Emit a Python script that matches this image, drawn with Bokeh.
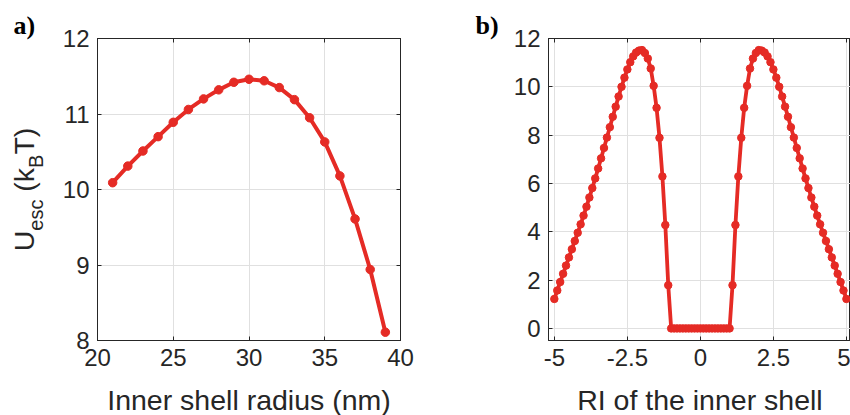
from bokeh.plotting import figure
from bokeh.models import FixedTicker, LinearAxis, Label, Range1d
from bokeh.layouts import row, column
from bokeh.embed import file_html
from bokeh.resources import INLINE

# ---------------- data ----------------
radius_nm = [21, 22, 23, 24, 25, 26, 27, 28, 29, 30, 31, 32, 33, 34, 35, 36, 37, 38, 39]
u_esc_radius = [10.09, 10.31, 10.51, 10.70, 10.89, 11.06, 11.20, 11.32, 11.42, 11.46,
                11.44, 11.35, 11.19, 10.95, 10.63, 10.18, 9.61, 8.94, 8.11]

ri_values = [-5.0, -4.9, -4.8, -4.7, -4.6, -4.5, -4.4, -4.3, -4.2, -4.1,
             -4.0, -3.9, -3.8, -3.7, -3.6, -3.5, -3.4, -3.3, -3.2, -3.1,
             -3.0, -2.9, -2.8, -2.7, -2.6, -2.5, -2.4, -2.3, -2.2, -2.1,
             -2.0, -1.9, -1.8, -1.7, -1.6, -1.5, -1.4, -1.3, -1.2, -1.1,
             -1.0, -0.9, -0.8, -0.7, -0.6, -0.5, -0.4, -0.3, -0.2, -0.1,
             0.0, 0.1, 0.2, 0.3, 0.4, 0.5, 0.6, 0.7, 0.8, 0.9,
             1.0, 1.1, 1.2, 1.3, 1.4, 1.5, 1.6, 1.7, 1.8, 1.9,
             2.0, 2.1, 2.2, 2.3, 2.4, 2.5, 2.6, 2.7, 2.8, 2.9,
             3.0, 3.1, 3.2, 3.3, 3.4, 3.5, 3.6, 3.7, 3.8, 3.9,
             4.0, 4.1, 4.2, 4.3, 4.4, 4.5, 4.6, 4.7, 4.8, 4.9, 5.0]
u_esc_ri = [1.22, 1.57, 1.92, 2.26, 2.60, 2.94, 3.28, 3.62, 3.96, 4.31,
            4.67, 5.04, 5.42, 5.81, 6.21, 6.62, 7.04, 7.47, 7.90, 8.33,
            8.76, 9.18, 9.60, 10.00, 10.38, 10.72, 11.02, 11.26, 11.42, 11.50,
            11.52, 11.40, 11.17, 10.76, 10.04, 9.13, 7.89, 6.29, 4.28, 1.79,
            0, 0, 0, 0, 0, 0, 0, 0, 0, 0,
            0, 0, 0, 0, 0, 0, 0, 0, 0, 0,
            0, 1.79, 4.28, 6.29, 7.89, 9.13, 10.04, 10.76, 11.17, 11.40,
            11.52, 11.50, 11.42, 11.26, 11.02, 10.72, 10.38, 10.00, 9.60, 9.18,
            8.76, 8.33, 7.90, 7.47, 7.04, 6.62, 6.21, 5.81, 5.42, 5.04,
            4.67, 4.31, 3.96, 3.62, 3.28, 2.94, 2.60, 2.26, 1.92, 1.57, 1.22]

xticks_a = [20, 25, 30, 35, 40]
yticks_a = [8, 9, 10, 11, 12]
xticks_b = [-5, -2.5, 0, 2.5, 5]
xtick_labels_b = ["-5", "-2.5", "0", "2.5", "5"]
yticks_b = [0, 2, 4, 6, 8, 10, 12]
xlabel_a = "Inner shell radius (nm)"
xlabel_b = "RI of the inner shell"

# ---------------- style ----------------
RED = "#e52b25"
AX = "#262626"
GRID = "#e0e0e0"
SANS = "Liberation Sans"
SERIF = "Liberation Serif"
TICK_SIZE = "24px"
TITLE_PX = 28.5
SUB_PX = 20
PANEL_PX = 26
H_TOP = 378
H_BOT = 37
BASE_SHIFT = 0.42   # label anchor offset (fraction of font size) to land on the baseline


def style(p, xt, yt):
    p.xaxis.ticker = FixedTicker(ticks=xt)
    p.yaxis.ticker = FixedTicker(ticks=yt)
    for ax in p.axis:
        ax.major_label_text_font = SANS
        ax.major_label_text_font_size = TICK_SIZE
        ax.major_label_text_color = AX
        ax.axis_line_color = AX
        ax.major_tick_line_color = AX
        ax.major_tick_in = 4
        ax.major_tick_out = 0
        ax.minor_tick_line_color = None
    p.xaxis.major_label_standoff = 8
    p.yaxis.major_label_standoff = 8
    p.grid.grid_line_color = GRID
    p.grid.grid_line_width = 1
    p.outline_line_color = AX
    p.outline_line_width = 1


def tick_axis(ticks):
    return LinearAxis(ticker=FixedTicker(ticks=ticks),
                      major_label_overrides={t: "" for t in ticks},
                      major_tick_in=4, major_tick_out=0, minor_tick_line_color=None,
                      axis_line_color=AX, major_tick_line_color=AX)


def blank(width, height):
    f = figure(width=width, height=height, x_range=Range1d(0, width),
               y_range=Range1d(0, height), title=None, frame_align=False,
               x_axis_type=None, y_axis_type=None, output_backend="svg",
               toolbar_location=None, min_border_left=0, min_border_right=0,
               min_border_top=0, min_border_bottom=0)
    f.grid.visible = False
    f.outline_line_color = None
    return f


# ---------------- left strip: y label + "a)" ----------------
strip_a = blank(56, H_TOP)
pieces = [("U", TITLE_PX, 0.722, False),
          ("esc", SUB_PX, 1.556, True),
          ("(k", TITLE_PX, 0.833, False),
          ("B", SUB_PX, 0.667, True),
          ("T)", TITLE_PX, 0.944, False)]
space_px = 0.278 * TITLE_PX
total = sum(w * s for _, s, w, _ in pieces) + space_px
pos = H_TOP - 189 - total / 2
for i, (txt, size, w, sub) in enumerate(pieces):
    if i == 2:
        pos += space_px
    xx = 35.6 if sub else 23
    strip_a.add_layout(Label(x=xx, y=pos, text=txt, angle=1.5707963,
                             text_font=SANS, text_font_size=f"{size}px", text_color=AX,
                             text_align="left", text_baseline="alphabetic"))
    pos += w * size
strip_a.add_layout(Label(x=13, y=H_TOP - 35.5 + BASE_SHIFT * PANEL_PX, text="a)",
                         text_font=SERIF, text_font_style="bold",
                         text_font_size=f"{PANEL_PX}px", text_color="black",
                         text_align="left", text_baseline="alphabetic"))

# ---------------- panel a ----------------
p1 = figure(width=414, height=H_TOP, x_range=Range1d(20, 40), y_range=Range1d(8, 12),
            output_backend="svg", toolbar_location=None, title=None,
            min_border_left=41, min_border_right=70, min_border_top=38, min_border_bottom=38)
style(p1, xticks_a, yticks_a)
p1.add_layout(tick_axis(xticks_a), "above")
p1.add_layout(tick_axis(yticks_a), "right")
p1.line(radius_nm, u_esc_radius, line_color=RED, line_width=4)
p1.scatter(radius_nm, u_esc_radius, size=8.5, fill_color=RED, line_color=RED)

# ---------------- strip for "b)" ----------------
strip_b = blank(40, H_TOP)
strip_b.add_layout(Label(x=5, y=H_TOP - 35.5 + BASE_SHIFT * PANEL_PX, text="b)",
                         text_font=SERIF, text_font_style="bold",
                         text_font_size=f"{PANEL_PX}px", text_color="black",
                         text_align="left", text_baseline="alphabetic"))

# ---------------- panel b ----------------
p2 = figure(width=340, height=H_TOP, x_range=Range1d(-5.2, 5.14), y_range=Range1d(-0.5, 12),
            output_backend="svg", toolbar_location=None, title=None,
            min_border_left=37, min_border_right=0, min_border_top=38, min_border_bottom=38)
style(p2, xticks_b, yticks_b)
p2.xaxis.major_label_overrides = {t: l for t, l in zip(xticks_b, xtick_labels_b)}
p2.add_layout(tick_axis(xticks_b), "above")
p2.line(ri_values, u_esc_ri, line_color=RED, line_width=3.8)
p2.scatter(ri_values, u_esc_ri, size=7.5, fill_color=RED, line_color=RED)

# ---------------- bottom strip: axis titles ----------------
bottom = blank(850, H_BOT)
title_y = 3.5 + BASE_SHIFT * TITLE_PX
bottom.add_layout(Label(x=248.5, y=title_y, text=xlabel_a, text_font=SANS,
                        text_font_size=f"{TITLE_PX}px", text_color=AX,
                        text_align="center", text_baseline="alphabetic"))
bottom.add_layout(Label(x=699.4, y=title_y, text=xlabel_b, text_font=SANS,
                        text_font_size=f"{TITLE_PX}px", text_color=AX,
                        text_align="center", text_baseline="alphabetic"))

layout = column(row(strip_a, p1, strip_b, p2), bottom)
open("out.html", "w").write(file_html(layout, INLINE))
